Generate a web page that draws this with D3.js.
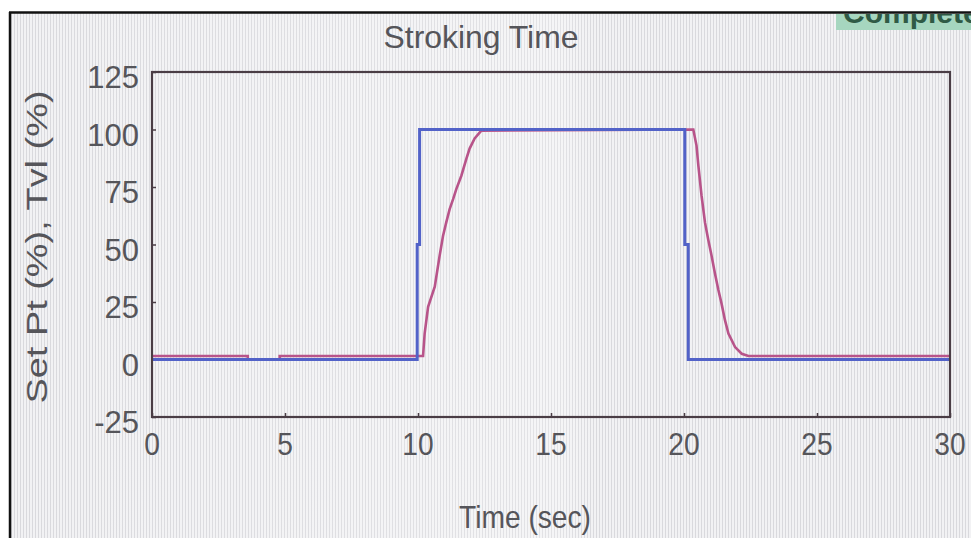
<!DOCTYPE html>
<html>
<head>
<meta charset="utf-8">
<script src="https://cdn.jsdelivr.net/npm/d3@7"></script>
<style>
  html, body { margin: 0; padding: 0; background: #ffffff; }
  svg { display: block; }
  text { font-family: "Liberation Sans", Arial, sans-serif; fill: #55555a; }
</style>
</head>
<body>
<svg id="chart" width="971" height="538"></svg>
<script>
// Set point (blue), sampled; held between samples
const setTime  = [0, 9.97, 10.06, 20.03, 20.16, 30];
const setValue = [0, 50, 100, 50, 0, 0];

// Valve travel feedback (red)
const tvlTime  = [0, 3.6, 3.6, 4.8, 4.8, 10.19, 10.25, 10.38, 10.63, 10.81, 10.94, 11.06, 11.19, 11.32, 11.44, 11.63, 11.82, 11.94, 12.13, 12.38, 20.35, 20.47, 20.54, 20.66, 20.79, 20.91, 21.04, 21.16, 21.29, 21.41, 21.54, 21.67, 21.92, 22.17, 22.42, 30];
const tvlValue = [1.5, 1.5, 0, 0, 1.5, 1.5, 11.3, 22.9, 31.7, 44.9, 53.7, 59.5, 65.4, 69.7, 74.1, 79.9, 87.3, 91.7, 96.1, 99.5, 100, 93, 84.3, 71.2, 59.5, 52.2, 44.9, 37.6, 30.3, 24.4, 17.1, 11.3, 5.4, 2.5, 1.5, 1.5];

const xTicks = [0, 5, 10, 15, 20, 25, 30];
const yTicks = [-25, 0, 25, 50, 75, 100, 125];

const titleText = "Stroking Time";
const xLabel = "Time (sec)";
const yLabel = "Set Pt (%), Tvl (%)";
const statusText = "Complete";

const svg = d3.select("#chart");
const W = 971, H = 538;

// LCD panel with its fine vertical pixel stripes
const defs = svg.append("defs");
const pat = defs.append("pattern")
  .attr("id", "lcd").attr("patternUnits", "userSpaceOnUse")
  .attr("width", 3).attr("height", 10);
pat.append("rect").attr("width", 3).attr("height", 10).attr("fill", "#f2f2f4");
pat.append("rect").attr("x", 2).attr("width", 1).attr("height", 10).attr("fill", "#d9d9dd");

const glare = defs.append("linearGradient").attr("id", "glare")
  .attr("x1", 0).attr("x2", 1).attr("y1", 0).attr("y2", 0);
glare.append("stop").attr("offset", "0").attr("stop-color", "#ffffff").attr("stop-opacity", 0);
glare.append("stop").attr("offset", "0.57").attr("stop-color", "#ffffff").attr("stop-opacity", 0.25);
glare.append("stop").attr("offset", "0.61").attr("stop-color", "#ffffff").attr("stop-opacity", 0);
glare.append("stop").attr("offset", "1").attr("stop-color", "#ffffff").attr("stop-opacity", 0);

svg.append("rect").attr("x", 10).attr("y", 12).attr("width", W - 10).attr("height", H - 12)
  .attr("fill", "url(#lcd)");
svg.append("rect").attr("x", 10).attr("y", 12).attr("width", W - 10).attr("height", H - 12)
  .attr("fill", "url(#glare)");

// Screen bezel edges
svg.append("line").attr("x1", 9).attr("x2", W).attr("y1", 12.5).attr("y2", 12.5)
  .attr("stroke", "#111").attr("stroke-width", 2.5);
svg.append("line").attr("x1", 10).attr("x2", 10).attr("y1", 12).attr("y2", H)
  .attr("stroke", "#111").attr("stroke-width", 2.5);

// Status badge, partly hidden by the bezel
defs.append("clipPath").attr("id", "badgeClip")
  .append("rect").attr("x", 836).attr("y", 14).attr("width", 140).attr("height", 16);
const badge = svg.append("g").attr("clip-path", "url(#badgeClip)");
badge.append("rect").attr("x", 836).attr("y", 8).attr("width", 140).attr("height", 23)
  .attr("fill", "#a6d6bf");
badge.append("text").attr("x", 843).attr("y", 23)
  .style("font-size", "30px").style("font-weight", "bold").style("fill", "#2f5a45")
  .text(statusText);

// Scales
const x = d3.scaleLinear().domain([0, 30]).range([152, 950]);
const y = d3.scaleLinear().domain([-25, 125]).range([417, 72]);

// Axes with short inward ticks
const gx = svg.append("g").attr("transform", `translate(0,${y(-25)})`)
  .call(d3.axisBottom(x).tickValues(xTicks).tickSize(-4).tickFormat(""));
const gy = svg.append("g").attr("transform", `translate(${x(0)},0)`)
  .call(d3.axisLeft(y).tickValues(yTicks).tickSize(-4).tickFormat(""));
[gx, gy].forEach(g => {
  g.select(".domain").remove();
  g.selectAll(".tick line").attr("stroke", "#4a3d45").attr("stroke-width", 1.5);
});

// Tick labels
svg.append("g").selectAll("text").data(xTicks).join("text")
  .attr("x", d => x(d)).attr("y", 455)
  .attr("text-anchor", "middle").style("font-size", "32px")
  .attr("transform", d => `translate(${x(d)},0) scale(0.88,1) translate(${-x(d)},0)`)
  .text(d => d);
svg.append("g").selectAll("text").data(yTicks).join("text")
  .attr("x", 139).attr("y", d => y(d) + 16)
  .attr("text-anchor", "end").style("font-size", "31px")
  .text(d => d);

// Series
const lineGen = d3.line().x(d => x(d[0])).y(d => y(d[1]));
const setData = d3.zip(setTime, setValue);
const tvlData = d3.zip(tvlTime, tvlValue);

svg.append("path").datum(tvlData)
  .attr("d", lineGen)
  .attr("fill", "none").attr("stroke", "#b8548a").attr("stroke-width", 2.6);
svg.append("path").datum(setData)
  .attr("d", lineGen.curve(d3.curveStepAfter))
  .attr("fill", "none").attr("stroke", "#5262c8").attr("stroke-width", 3);

// Plot frame
svg.append("rect")
  .attr("x", x(0)).attr("y", y(125))
  .attr("width", x(30) - x(0)).attr("height", y(-25) - y(125))
  .attr("fill", "none").attr("stroke", "#4a3d45").attr("stroke-width", 2.2);

// Titles
svg.append("text").attr("x", 481).attr("y", 48)
  .attr("text-anchor", "middle").style("font-size", "32px")
  .attr("textLength", 195).attr("lengthAdjust", "spacingAndGlyphs")
  .text(titleText);
svg.append("text").attr("x", 525).attr("y", 528)
  .attr("text-anchor", "middle").style("font-size", "32px")
  .attr("textLength", 132).attr("lengthAdjust", "spacingAndGlyphs")
  .text(xLabel);
svg.append("text")
  .attr("transform", "translate(47,247) rotate(-90)")
  .attr("text-anchor", "middle").style("font-size", "30px")
  .attr("textLength", 313).attr("lengthAdjust", "spacingAndGlyphs")
  .text(yLabel);
</script>
</body>
</html>
